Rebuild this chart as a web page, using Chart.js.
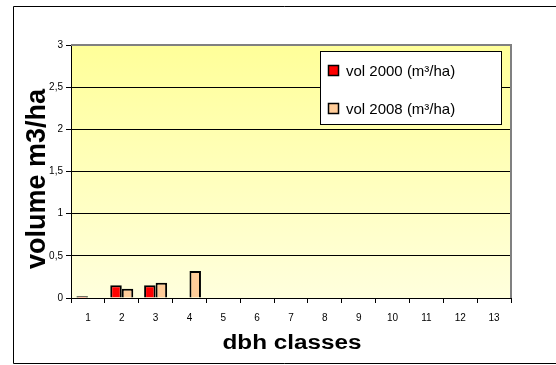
<!DOCTYPE html>
<html><head><meta charset="utf-8">
<script src="https://cdn.jsdelivr.net/npm/chart.js@4/dist/chart.umd.min.js"></script>
<style>
html,body{margin:0;padding:0;background:#fff;}
#wrap{position:relative;width:556px;height:365px;}
</style></head>
<body><div id="wrap"><canvas id="c" width="556" height="365"></canvas></div>
<script>
const categories = ['1','2','3','4','5','6','7','8','9','10','11','12','13'];
const vol2000 = [0.02, 0.15, 0.15, 0, 0, 0, 0, 0, 0, 0, 0, 0, 0];
const vol2008 = [0, 0.11, 0.18, 0.32, 0, 0, 0, 0, 0, 0, 0, 0, 0];
const seriesLabels = ['vol 2000 (m³/ha)', 'vol 2008 (m³/ha)'];
const yTickLabels = ['0', '0,5', '1', '1,5', '2', '2,5', '3'];
const xTitle = 'dbh classes';
const yTitle = 'volume m3/ha';

const FONT = "'Liberation Sans', Arial, sans-serif";

const decor = {
  id: 'decor',
  beforeDraw(chart) {
    const {ctx, chartArea: a} = chart;
    ctx.save();
    const g = ctx.createLinearGradient(0, a.top, 0, a.bottom);
    g.addColorStop(0, '#FFFF99');
    g.addColorStop(1, '#FFFFDD');
    ctx.fillStyle = g;
    ctx.fillRect(a.left, a.top, a.right - a.left, a.bottom - a.top);
    ctx.strokeStyle = '#000';
    ctx.lineWidth = 1;
    ctx.beginPath();
    ctx.moveTo(556, 6.5); ctx.lineTo(13.5, 6.5); ctx.lineTo(13.5, 363.5); ctx.lineTo(556, 363.5);
    ctx.stroke();
    ctx.restore();
  },
  afterDatasetsDraw(chart) {
    const {ctx, chartArea: a} = chart;
    ctx.save();
    ctx.strokeStyle = '#808080';
    ctx.lineWidth = 2;
    ctx.beginPath();
    ctx.moveTo(a.left, a.top); ctx.lineTo(a.right, a.top); ctx.lineTo(a.right, a.bottom);
    ctx.stroke();
    // legend
    const lx = 320.5, ly = 51.5, lw = 181, lh = 73;
    ctx.fillStyle = '#fff';
    ctx.fillRect(lx, ly, lw, lh);
    ctx.strokeStyle = '#000';
    ctx.lineWidth = 1;
    ctx.strokeRect(lx, ly, lw, lh);
    const rows = [70.5, 108.5];
    ctx.font = '15px ' + FONT;
    ctx.textBaseline = 'middle';
    chart.data.datasets.forEach((ds, i) => {
      ctx.fillStyle = ds.backgroundColor;
      ctx.fillRect(328.5, rows[i] - 5, 10, 10);
      ctx.strokeStyle = '#000';
      ctx.lineWidth = 1.5;
      ctx.strokeRect(328.5, rows[i] - 5, 10, 10);
      ctx.fillStyle = '#000';
      ctx.fillText(ds.label, 346, rows[i] + 1);
    });
    // axis titles
    ctx.fillStyle = '#000';
    ctx.textAlign = 'center';
    ctx.textBaseline = 'alphabetic';
    ctx.font = 'bold 20px ' + FONT;
    const w = ctx.measureText(xTitle).width;
    ctx.save();
    ctx.translate(292, 349);
    ctx.scale(139 / w, 1);
    ctx.fillText(xTitle, 0, 0);
    ctx.restore();
    ctx.save();
    ctx.font = 'bold 27px ' + FONT;
    ctx.translate(45, 179);
    ctx.rotate(-Math.PI / 2);
    ctx.fillText(yTitle, 0, 0);
    ctx.restore();
    ctx.restore();
  }
};

new Chart(document.getElementById('c'), {
  type: 'bar',
  data: {
    labels: categories,
    datasets: [
      {label: seriesLabels[0], data: vol2000, backgroundColor: '#FF0000', borderColor: '#000', borderWidth: 2, borderSkipped: 'bottom'},
      {label: seriesLabels[1], data: vol2008, backgroundColor: '#FFCC99', borderColor: '#000', borderWidth: 2, borderSkipped: 'bottom'}
    ]
  },
  options: {
    responsive: false,
    animation: false,
    devicePixelRatio: 1,
    layout: {padding: {top: 45, right: 45, left: 14, bottom: 0}},
    plugins: {legend: {display: false}, tooltip: {enabled: false}},
    datasets: {bar: {categoryPercentage: 0.68, barPercentage: 1}},
    scales: {
      x: {
        offset: true,
        grid: {display: true, drawOnChartArea: false, drawTicks: true, tickLength: 5, color: '#000', offset: true},
        border: {display: true, color: '#000', width: 1},
        ticks: {font: {family: FONT, size: 10}, color: '#000', padding: 9, maxRotation: 0},
        afterFit: s => { s.height = 365 - 298; }
      },
      y: {
        min: 0, max: 3,
        ticks: {stepSize: 0.5, font: {family: FONT, size: 10}, color: '#000', padding: 3,
          callback: (v, i) => yTickLabels[i]},
        grid: {color: '#000', lineWidth: 1, tickLength: 5, drawTicks: true},
        border: {display: true, color: '#000', width: 1},
        afterFit: s => { s.width = 71 - 14; }
      }
    }
  },
  plugins: [decor]
});
</script></body></html>
